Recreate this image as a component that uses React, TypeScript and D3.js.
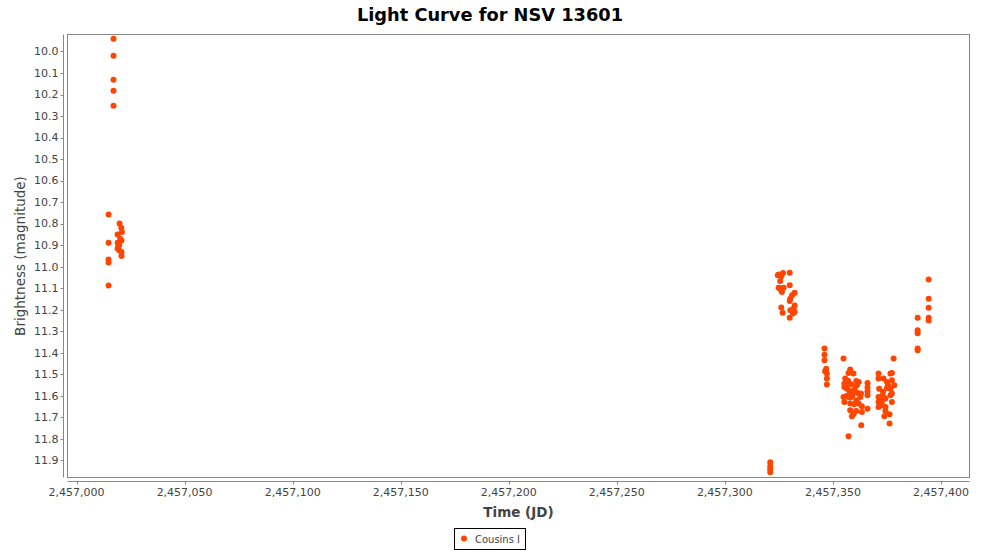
import React from "react";
import * as d3 from "d3";

const TITLE = "Light Curve for NSV 13601";
const X_LABEL = "Time (JD)";
const Y_LABEL = "Brightness (magnitude)";
const SERIES_NAME = "Cousins I";

const xTicks = [2457000, 2457050, 2457100, 2457150, 2457200, 2457250, 2457300, 2457350, 2457400];
const yTicks = [10.0, 10.1, 10.2, 10.3, 10.4, 10.5, 10.6, 10.7, 10.8, 10.9, 11.0, 11.1, 11.2, 11.3, 11.4, 11.5, 11.6, 11.7, 11.8, 11.9];

// JD offsets from 2,457,000 and magnitudes (Cousins I)
const jdOffset = [
  17.1, 17.1, 17.1, 17.1, 17.1,
  14.8, 19.9, 20.7, 21.0, 19.0, 14.8, 20.8, 19.0, 19.7, 19.0, 19.7, 20.8, 20.8, 14.8, 14.8, 14.8, 19.3, 20.2,
  321.0, 321.0, 321.0, 321.0,
  324.9, 326.9, 330.0, 326.1, 325.6, 324.9, 326.0, 327.2, 326.4, 330.0, 332.3, 331.1, 330.3, 330.0, 332.3, 331.8, 332.3, 330.3, 326.1, 326.7, 330.0, 331.5, 324.5, 325.3,
  346.1, 346.1, 346.1, 346.9, 346.4, 347.2, 347.2, 347.2,
  354.9, 358.0, 357.2, 359.5, 355.7, 360.8, 361.9, 355.3, 358.4, 361.1, 355.3, 356.5, 357.7, 358.8, 361.4, 363.0, 366.0, 366.0, 366.0, 366.0,
  354.9, 357.2, 358.0, 362.7, 360.8, 355.3, 358.0, 361.9, 363.4, 366.0, 358.0, 360.8, 359.5, 363.4, 358.8, 363.1, 357.2,
  356.0, 357.0, 359.0, 360.0, 356.5, 359.8,
  371.1, 371.1, 376.6, 377.3, 378.1, 373.4, 375.0, 377.3, 378.4, 371.4, 375.0, 376.6, 373.2, 377.3, 371.1, 373.4, 376.6, 371.1,
  372.7, 374.3, 372.7, 371.1, 374.3, 377.3, 374.3, 373.8, 376.2, 376.2, 372.0, 373.0, 375.5, 372.5,
  389.2, 389.2, 389.2, 389.2, 389.2,
  394.3, 394.3, 394.3, 394.3, 394.3,
];
const magnitude = [
  9.941, 10.020, 10.131, 10.183, 10.252,
  10.758, 10.800, 10.819, 10.839, 10.851, 10.889, 10.878, 10.889, 10.901, 10.916, 10.924, 10.932, 10.951, 10.967, 10.981, 11.088, 10.905, 10.870,
  11.909, 11.928, 11.942, 11.956,
  11.036, 11.030, 11.028, 11.045, 11.067, 11.098, 11.107, 11.098, 11.118, 11.087, 11.121, 11.133, 11.149, 11.160, 11.180, 11.195, 11.211, 11.203, 11.190, 11.214, 11.237, 11.218, 11.040, 11.100,
  11.381, 11.409, 11.435, 11.474, 11.486, 11.497, 11.520, 11.548,
  11.427, 11.478, 11.494, 11.497, 11.520, 11.531, 11.536, 11.543, 11.547, 11.551, 11.559, 11.567, 11.578, 11.587, 11.587, 11.590, 11.541, 11.562, 11.579, 11.598,
  11.606, 11.606, 11.608, 11.606, 11.621, 11.629, 11.636, 11.636, 11.649, 11.660, 11.667, 11.671, 11.686, 11.675, 11.695, 11.737, 11.788,
  11.550, 11.530, 11.600, 11.570, 11.600, 11.640,
  11.497, 11.520, 11.497, 11.494, 11.427, 11.520, 11.536, 11.528, 11.551, 11.567, 11.564, 11.567, 11.582, 11.590, 11.606, 11.606, 11.598, 11.629,
  11.621, 11.613, 11.644, 11.652, 11.652, 11.629, 11.671, 11.695, 11.686, 11.729, 11.610, 11.600, 11.550, 11.630,
  11.237, 11.296, 11.309, 11.381, 11.389,
  11.060, 11.149, 11.191, 11.237, 11.250,
];

const X_DOMAIN = [2456995.8, 2457413.2];
const Y_DOMAIN = [9.921, 11.98];

export default function App() {
  const W = 981, H = 551;
  const left = 67.5, right = 969.5, top = 34.5, bottom = 477.5;
  const x = d3.scaleLinear().domain(X_DOMAIN).range([left, right]);
  const y = d3.scaleLinear().domain(Y_DOMAIN).range([top, bottom]);
  const fmtX = d3.format(",.0f");
  const fmtY = d3.format(".1f");
  const axisColor = "#888888";
  const textColor = "#444444";
  const pointColor = "#FF4500";
  const font = "'DejaVu Sans', Verdana, sans-serif";
  const yAxisX = 63.5;
  const xAxisY = 481.5;
  const points = jdOffset.map((o, i) => ({ jd: 2457000 + o, mag: magnitude[i] }));

  return (
    <svg width={W} height={H} style={{ position: "absolute", left: 0, top: 0, background: "#fff" }} fontFamily={font}>
      <rect x={0} y={0} width={W} height={H} fill="#ffffff" />
      <text x={490} y={21} textAnchor="middle" fontSize={17.8} fontWeight="bold" fill="#000">{TITLE}</text>
      <rect x={left} y={top} width={right - left} height={bottom - top} fill="#fff" stroke={axisColor} strokeWidth={1} />
      {/* Y axis */}
      <line x1={yAxisX} y1={top} x2={yAxisX} y2={bottom} stroke={axisColor} />
      {yTicks.map((t) => (
        <g key={t}>
          <line x1={yAxisX - 3} x2={yAxisX} y1={Math.round(y(t)) + 0.5} y2={Math.round(y(t)) + 0.5} stroke={axisColor} />
          <text x={yAxisX - 5} y={y(t)} dy="0.35em" textAnchor="end" fontSize={11} fill={textColor}>{fmtY(t)}</text>
        </g>
      ))}
      {/* X axis */}
      <line x1={left} y1={xAxisY} x2={right} y2={xAxisY} stroke={axisColor} />
      {xTicks.map((t) => (
        <g key={t}>
          <line x1={Math.round(x(t)) + 0.5} x2={Math.round(x(t)) + 0.5} y1={xAxisY} y2={xAxisY + 3} stroke={axisColor} />
          <text x={x(t)} y={xAxisY + 14} textAnchor="middle" fontSize={11} fill={textColor}>{fmtX(t)}</text>
        </g>
      ))}
      <text x={(left + right) / 2} y={517} textAnchor="middle" fontSize={13.5} fontWeight="bold" fill={textColor}>{X_LABEL}</text>
      <text transform={`translate(25,${(top + bottom) / 2}) rotate(-90)`} textAnchor="middle" fontSize={13.5} fill={textColor}>{Y_LABEL}</text>
      {/* points */}
      <g>
        {points.map((p, i) => (
          <circle key={i} cx={x(p.jd)} cy={y(p.mag)} r={3} fill={pointColor} />
        ))}
      </g>
      {/* legend */}
      <rect x={454.5} y={528.5} width={71} height={21} fill="#fff" stroke="#000" />
      <circle cx={464} cy={538.5} r={3} fill={pointColor} />
      <text x={475} y={543} fontSize={11} fill={textColor} textLength={45} lengthAdjust="spacingAndGlyphs">{SERIES_NAME}</text>
    </svg>
  );
}
